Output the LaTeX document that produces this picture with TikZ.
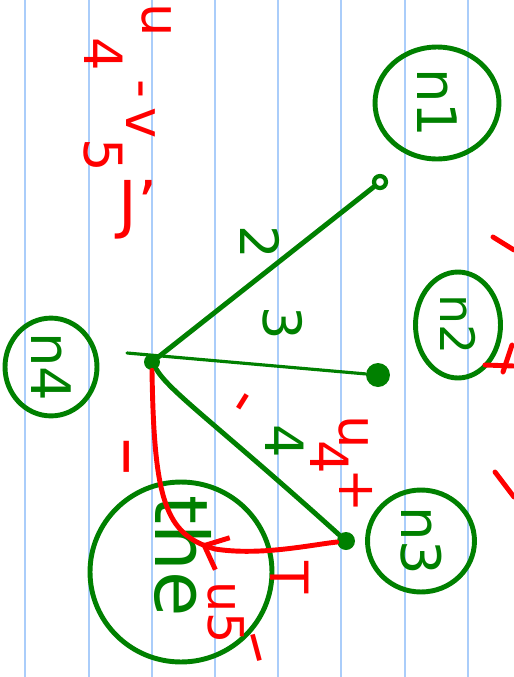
\documentclass[tikz,border=0pt]{standalone}
\usepackage{fontspec}
\setmainfont{DejaVu Sans}
\usetikzlibrary{shapes.geometric,arrows.meta,decorations.markings}

\definecolor{inkgreen}{RGB}{0,128,0}
\definecolor{inkred}{RGB}{255,0,0}
\definecolor{ruleblue}{RGB}{170,205,250}
\newcommand{\lowered}[2][1.1em]{\raisebox{-#1}{#2}}

\begin{document}
\begin{tikzpicture}[
        x=0.02cm, y=-0.02cm,
        vertex/.style={ellipse, draw=inkgreen, line width=2.8pt, inner sep=0pt, rotate=-90, text=inkgreen, font=\fontsize{31}{36}\selectfont},
        blob/.style={circle, fill=inkgreen, inner sep=0pt, minimum size=#1},
        ring/.style={circle, draw=inkgreen, line width=2.4pt, inner sep=0pt, minimum size=0.24cm},
        link/.style={draw=inkgreen, line width=2.8pt, line cap=round},
        thinlink/.style={draw=inkgreen, line width=1.8pt, line cap=round},
        weight/.style={text=inkgreen, rotate=-90, inner sep=0pt, font=\fontsize{30}{36}\selectfont},
        redink/.style={text=inkred, inner sep=0pt, font=\fontsize{30}{36}\selectfont},
        note/.style={redink, rotate=-90},
        redpath/.style={draw=inkred, line width=2.8pt, line cap=round},
        ruling/.style={draw=ruleblue, line width=1.1pt}
    ]
    \useasboundingbox (0,0) rectangle (514,677);
    \fill[white] (0,0) rectangle (514,677);
    \foreach \x in {25,89,152,215,278,341,405,468}
        \draw[ruling] (\x,0) -- (\x,677);

    % circled nodes
    \node[vertex, minimum width=2.24cm, minimum height=2.48cm] (n1) at (437,103) {n1};
    \node[vertex, minimum width=2.12cm, minimum height=1.7cm, font=\fontsize{27}{32}\selectfont] (n2) at (458,325) {n2};
    \node[vertex, minimum width=2.04cm, minimum height=2.14cm] (n3) at (421,541) {n3};
    \node[vertex, minimum width=1.82cm, minimum height=1.84cm] (n4) at (51,367) {n4};
    \node[vertex, minimum width=3.6cm, minimum height=3.64cm] (nthe) at (181,572) {};
    \node[weight, font=\fontsize{42}{48}\selectfont] (thetext) at (183,556) {the};

    % the star of edges
    \node[blob=0.32cm] (hub) at (152,362) {};
    \node[ring] (a) at (380,182) {};
    \node[blob=0.48cm] (b) at (378,375) {};
    \node[blob=0.36cm] (c) at (346,541) {};
    \coordinate (stub) at (127,353);

    \draw[link] (hub) -- (a);
    \draw[thinlink] (stub) -- (b);
    \draw[link] (hub) .. controls (170,392) and (215,423) .. (c);

    \node[weight] (w2) at (260,242) {2};
    \node[weight] (w3) at (283,323) {3};
    \node[weight] (w4) at (285,441) {4};

    % red working
    \draw[redpath, postaction={decorate}, decoration={markings, mark=at position 0.58 with {\arrowreversed{Straight Barb[length=0.4cm, width=0.7cm]}}}]
        (hub.south) .. controls (154,500) and (165,535) .. (215,549) .. controls (260,556) and (310,545) .. (c);

    \node[note] (uv) at (128,88) {\raisebox{0.3em}{u}\lowered[0.8em]{4}\,-\,v\lowered[0.8em]{5}};
    \node[redink, font=\fontsize{36}{40}\selectfont] (jay) at (138,210) {J'};
    \node[note] (uplus) at (342,464) {u\kern-0.15em\lowered[0.55em]{4}\kern-0.1em+};
    \node[note, font=\fontsize{28}{32}\selectfont] (ufive) at (226,613) {u5};
    \node[note] (tee) at (290,578) {T};
    \node[note, font=\fontsize{44}{50}\selectfont] (dasha) at (117,457) {--};
    \node[note, rotate=-32, font=\fontsize{35}{40}\selectfont] (dashb) at (237,398) {-};
    \node[note, rotate=15, font=\fontsize{38}{44}\selectfont] (dashc) at (249,650) {--};

    % marks cut off at the right edge
    \draw[redpath] (493,237) -- (514,250);
    \draw[redpath] (485,365) -- (514,366);
    \draw[redpath] (503,372) -- (512,345);
    \draw[redpath] (495,472) -- (514,497);
\end{tikzpicture}
\end{document}
